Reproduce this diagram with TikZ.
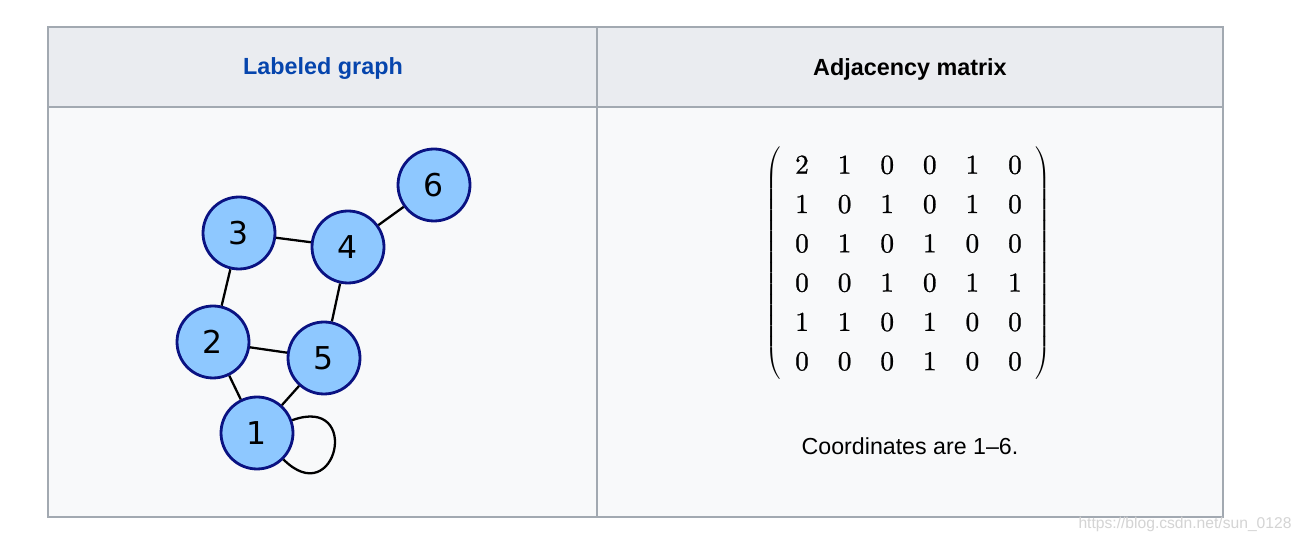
\documentclass[tikz,border=0pt]{standalone}
\usepackage[no-math]{fontspec}
\setmainfont{Liberation Sans}
\newfontfamily\vertexfont{DejaVu Sans}
\newfontfamily\matrixfont{lmroman10-regular}[Extension=.otf, FakeBold=0.9]
\usetikzlibrary{matrix}
\definecolor{headbg}{HTML}{EAECF0}
\definecolor{bodybg}{HTML}{F8F9FA}
\definecolor{rulegray}{HTML}{A2A9B1}
\definecolor{linkblue}{HTML}{0645AD}
\definecolor{vfill}{HTML}{8EC8FF}
\definecolor{vdraw}{HTML}{0A1282}
\definecolor{wmgray}{HTML}{D4D4D4}
\tikzset{
	vertex/.style={circle, draw=vdraw, fill=vfill, line width=1.6pt, minimum size=1.44cm, inner sep=0pt, font=\vertexfont\fontsize{17.9}{20}\selectfont},
	edge/.style={line width=1.3pt, black},
	head/.style={font=\bfseries\fontsize{13.3}{16}\selectfont}
}
\begin{document}
\begin{tikzpicture}[x=0.02cm, y=0.02cm]
	\fill[white] (0,0) rectangle (1302,-543);
	\filldraw[fill=headbg, draw=rulegray, line width=0.6pt] (48,-27) rectangle (1223,-107);
	\filldraw[fill=bodybg, draw=rulegray, line width=0.6pt] (48,-107) rectangle (1223,-517);
	\draw[rulegray, line width=0.6pt] (597,-27) -- (597,-517);
	\node[head, text=linkblue] (hgraph) at (323,-69) {Labeled graph};
	\node[head] (hmatrix) at (910,-69) {Adjacency matrix};
	% the graph
	\node[vertex] (v1) at (257,-433) {1};
	\node[vertex] (v2) at (213,-342) {2};
	\node[vertex] (v3) at (239,-233) {3};
	\node[vertex] (v4) at (348,-247) {4};
	\node[vertex] (v5) at (324,-358) {5};
	\node[vertex] (v6) at (434,-185) {6};
	\draw[edge] (v1) -- (v2);
	\draw[edge] (v1) -- (v5);
	\draw[edge] (v2) -- (v3);
	\draw[edge] (v2) -- (v5);
	\draw[edge] (v3) -- (v4);
	\draw[edge] (v4) -- (v5);
	\draw[edge] (v4) -- (v6);
	\draw[edge] (v1) to[out=20, in=-45, out distance=1.5cm, in distance=1.5cm] (v1);
	% the matrix
	\matrix (adj) [matrix of nodes, left delimiter=(, right delimiter=),
		nodes={font=\matrixfont\fontsize{15.5}{18}\selectfont, minimum width=0.5cm, minimum height=0.6cm, inner sep=0pt},
		row sep=0.18cm, column sep=0.352cm] at (908.5,-263) {
		2 & 1 & 0 & 0 & 1 & 0 \\
		1 & 0 & 1 & 0 & 1 & 0 \\
		0 & 1 & 0 & 1 & 0 & 0 \\
		0 & 0 & 1 & 0 & 1 & 1 \\
		1 & 1 & 0 & 1 & 0 & 0 \\
		0 & 0 & 0 & 1 & 0 & 0 \\
	};
	\node[font=\fontsize{13.2}{16}\selectfont] (note) at (910,-446) {Coordinates are 1–6.};
	\node[text=wmgray, font=\fontsize{8.9}{10}\selectfont] (wm) at (1185,-524) {https://blog.csdn.net/sun\_0128};
\end{tikzpicture}
\end{document}
